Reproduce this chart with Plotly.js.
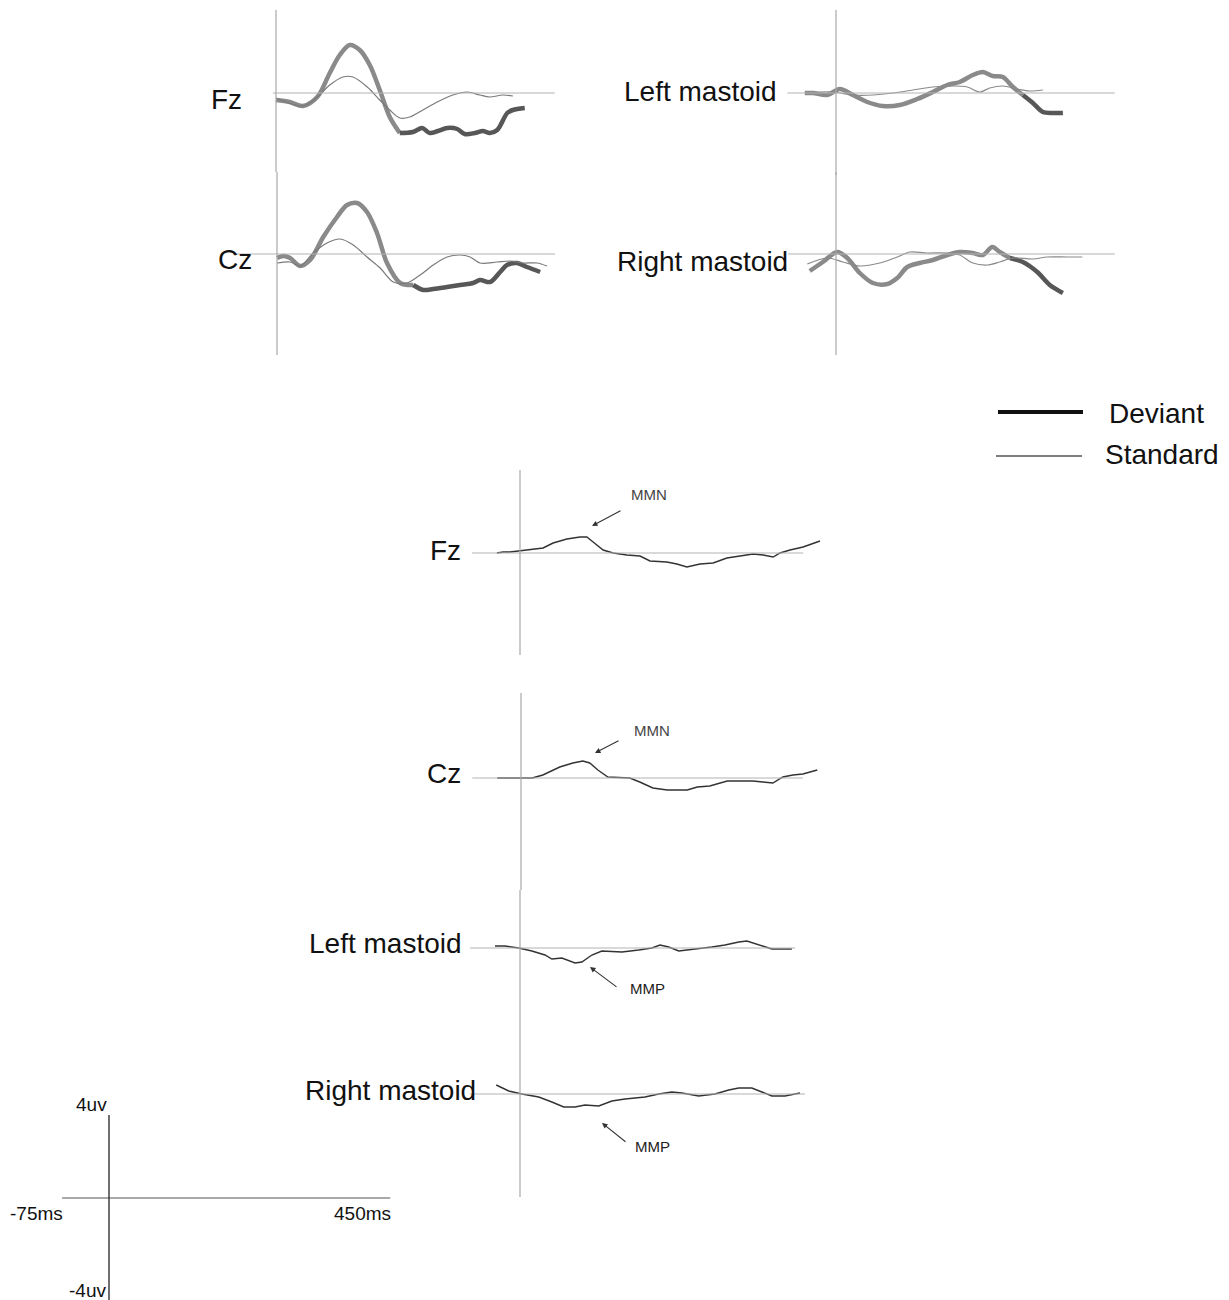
<!DOCTYPE html>
<html><head><meta charset="utf-8">
<script src="https://cdn.plot.ly/plotly-3.0.1.min.js"></script>
<style>html,body{margin:0;padding:0;background:#fff}#chart{width:1229px;height:1300px}</style>
</head><body><div id="chart"></div>
<script>
// ---------------- data (ms, µV) ----------------
// Top grand averages: deviant (thick) and standard (thin)
const fzDevT = [0,22,43,66,86,102,118,134,150,166,182,198,219,234,246,259,274,290,302,318,331,342,354,370,379,398];
const fzDevV = [-0.35,-0.45,-0.65,-0.2,1.0,1.9,2.4,2.15,1.4,0.15,-1.2,-2.0,-1.95,-1.75,-2.0,-1.9,-1.75,-1.8,-2.05,-2.0,-1.9,-2.0,-1.85,-1.0,-0.85,-0.75];
const fzStdT = [0,43,66,86,107,123,146,166,182,198,214,235,258,283,306,326,342,363,379];
const fzStdV = [-0.25,-0.65,-0.2,0.4,0.8,0.8,0.3,-0.35,-0.85,-1.25,-1.2,-0.85,-0.45,-0.1,0.05,-0.1,-0.2,-0.1,-0.15];

const czDevT = [0,10,21,37,53,74,96,112,128,144,160,176,197,218,234,250,272,293,314,325,341,357,368,384,400,421];
const czDevV = [-0.2,-0.1,-0.2,-0.6,-0.3,0.85,1.85,2.45,2.55,2.1,1.05,-0.45,-1.45,-1.55,-1.8,-1.75,-1.65,-1.55,-1.45,-1.3,-1.4,-0.9,-0.55,-0.45,-0.65,-0.9];
const czStdT = [0,21,37,58,80,101,122,144,165,186,208,229,250,272,293,309,325,352,373,394,416,432];
const czStdV = [-0.45,-0.4,-0.6,0.05,0.55,0.75,0.45,-0.15,-0.7,-1.4,-1.45,-1.05,-0.55,-0.15,-0.05,-0.15,-0.45,-0.4,-0.35,-0.45,-0.45,-0.6];

const lmDevT = [-50,-37,-14,6,27,50,75,102,130,155,178,198,219,235,251,267,283,299,315,331,347,363];
const lmDevV = [0,0,-0.1,0.2,-0.1,-0.45,-0.65,-0.6,-0.3,0.05,0.4,0.55,0.9,1.05,0.85,0.8,0.3,-0.1,-0.5,-0.95,-1.0,-1.0];
const lmStdT = [-50,-5,27,59,91,123,155,187,210,230,246,267,290,310,331];
const lmStdV = [0,0.05,-0.1,-0.1,0,0.15,0.3,0.35,0.3,0.05,0.25,0.35,0.2,0.1,0.15];

const rmDevT = [-42,-21,2,18,38,59,82,98,114,134,155,178,198,219,235,250,262,278,299,322,342,363];
const rmDevV = [-0.85,-0.4,0.1,-0.2,-0.95,-1.45,-1.5,-1.2,-0.65,-0.45,-0.3,-0.05,0.1,0.05,-0.05,0.35,0.1,-0.2,-0.4,-0.9,-1.55,-1.95];
const rmStdT = [-46,-14,11,38,70,102,118,146,178,198,219,242,262,283,315,338,370,394];
const rmStdV = [-0.5,-0.2,-0.4,-0.6,-0.45,-0.1,0.1,0.05,0.05,-0.05,-0.45,-0.55,-0.4,-0.2,-0.25,-0.15,-0.15,-0.15];

// Difference waves (deviant - standard)
const fzDiffT = [-37,-27,-16,0,21,37,53,75,96,107,117,133,149,171,192,208,235,251,267,288,309,331,352,373,389,405,416,432,453,480];
const fzDiffV = [0,0.05,0.05,0.1,0.2,0.25,0.5,0.7,0.8,0.8,0.55,0.15,0,-0.1,-0.15,-0.4,-0.45,-0.55,-0.7,-0.55,-0.5,-0.25,-0.15,-0.05,-0.1,-0.2,0,0.15,0.3,0.6];
const czDiffT = [-38,18,35,62,83,99,110,123,139,174,190,211,234,266,282,302,330,371,387,403,419,435,451,474];
const czDiffV = [0,0,0.15,0.55,0.75,0.85,0.75,0.4,0.05,0,-0.2,-0.5,-0.6,-0.6,-0.45,-0.4,-0.15,-0.15,-0.2,-0.25,0.05,0.15,0.2,0.4];
const lmDiffT = [-40,-24,-2,19,40,51,67,88,99,115,131,163,190,211,224,238,254,270,291,307,328,350,363,382,403,435];
const lmDiffV = [0.1,0.1,0,-0.15,-0.35,-0.55,-0.5,-0.75,-0.7,-0.35,-0.15,-0.2,-0.1,0,0.15,0.05,-0.15,-0.1,0,0.05,0.15,0.3,0.35,0.15,-0.05,-0.05];
const rmDiffT = [-38,-18,3,30,51,70,88,104,126,147,168,200,222,243,259,286,312,334,350,371,387,403,424,448];
const rmDiffV = [0.45,0.15,0,-0.15,-0.4,-0.65,-0.65,-0.55,-0.6,-0.35,-0.25,-0.15,0,0.1,0.05,-0.1,0,0.2,0.3,0.3,0.1,-0.1,-0.1,0.05];

// Scale bar values
const scaleTime = [-75, 450];
const scaleVolt = [4, -4];

// ---------------- layout helpers ----------------
const W = 1229, H = 1300, MS_PER_PX = 1.6, UV_PER_PX = 0.05;
const FONT = 'Liberation Sans, Arial, Helvetica, sans-serif';
// panel boxes in px: [x0,x1,y0,y1], zero-time px, baseline px, baseline & vertical line extents
const panels = [
  {box:[200,560,5,172],  zx:276, by:93,   h:[-5,446],  v:[4.15,-3.95]},
  {box:[200,560,172,358],zx:277, by:254,  h:[-70,445], v:[4.1,-5.05]},
  {box:[780,1120,5,175], zx:836, by:93,   h:[-78,446], v:[4.15,-4.1]},
  {box:[780,1120,172,358],zx:836,by:254,  h:[-77,446], v:[4.1,-5.05]},
  {box:[465,830,465,658],zx:520, by:553,  h:[-77,453], v:[4.15,-5.1]},
  {box:[465,830,690,890],zx:521, by:778,  h:[-78,451], v:[4.25,-5.6]},
  {box:[465,830,890,1040],zx:520,by:948,  h:[-80,440], v:[2.9,-4.6]},
  {box:[465,830,1040,1200],zx:520,by:1094,h:[-80,456], v:[2.7,-5.15]},
  {box:[0,420,1090,1300],zx:109, by:1198, h:null, v:null}
];

const layout = {
  width: W, height: H, margin:{l:0,r:0,t:0,b:0},
  paper_bgcolor:'#fff', plot_bgcolor:'rgba(0,0,0,0)',
  showlegend:false, shapes:[], annotations:[], font:{family:FONT}
};
function sfx(i){ return i===0 ? '' : String(i+1); }
panels.forEach((p,i)=>{
  const [x0,x1,y0,y1] = p.box;
  const s = sfx(i);
  layout['xaxis'+s] = {domain:[x0/W, x1/W], range:[(x0-p.zx)*MS_PER_PX,(x1-p.zx)*MS_PER_PX], visible:false, fixedrange:true, anchor:'y'+s};
  layout['yaxis'+s] = {domain:[1-y1/H, 1-y0/H], range:[(p.by-y1)*UV_PER_PX,(p.by-y0)*UV_PER_PX], visible:false, fixedrange:true, anchor:'x'+s};
  if (p.h) {
    layout.shapes.push({type:'line', xref:'x'+s, yref:'y'+s, x0:p.h[0], x1:p.h[1], y0:0, y1:0, line:{color:'#b4b4b4', width:1.2}});
    layout.shapes.push({type:'line', xref:'x'+s, yref:'y'+s, x0:0, x1:0, y0:p.v[0], y1:p.v[1], line:{color:'#a8a8a8', width:1.2}});
  }
});
// scale bar (panel 9)
layout.shapes.push({type:'line', xref:'x9', yref:'y9', x0:scaleTime[0], x1:scaleTime[1], y0:0, y1:0, line:{color:'#8c8c8c', width:1.3}});
layout.shapes.push({type:'line', xref:'x9', yref:'y9', x0:0, x1:0, y0:scaleVolt[0]+0.15, y1:scaleVolt[1]-1.1, line:{color:'#222', width:1.3}});

// legend lines (paper)
layout.shapes.push({type:'line', xref:'paper', yref:'paper', x0:998/W, x1:1083/W, y0:1-412/H, y1:1-412/H, line:{color:'#111', width:4}});
layout.shapes.push({type:'line', xref:'paper', yref:'paper', x0:996/W, x1:1082/W, y0:1-456/H, y1:1-456/H, line:{color:'#555', width:1.4}});

function label(text, px, py, anchor, size, color){
  layout.annotations.push({text:text, xref:'paper', yref:'paper', x:px/W, y:1-py/H, xanchor:anchor, yanchor:'middle',
    showarrow:false, font:{family:FONT, size:size, color:color||'#111'}});
}
label('Fz', 244, 100, 'right', 28);
label('Cz', 254, 259, 'right', 28);
label('Left mastoid', 779, 91, 'right', 28);
label('Right mastoid', 790, 261, 'right', 28);
label('Fz', 463, 550, 'right', 28);
label('Cz', 463, 773, 'right', 28);
label('Left mastoid', 464, 943, 'right', 28);
label('Right mastoid', 478, 1090, 'right', 28);
label('Deviant', 1107, 413, 'left', 28);
label('Standard', 1103, 455, 'left', 28);
label('4uv', 109, 1104, 'right', 19);
label('-4uv', 108, 1290, 'right', 19);
label('-75ms', 8, 1213, 'left', 19);
label('450ms', 393, 1213, 'right', 19);
label('MMN', 649, 494, 'center', 15, '#444');
label('MMN', 652, 730, 'center', 15, '#444');
label('MMP', 647, 988, 'center', 15, '#222');
label('MMP', 652, 1146, 'center', 15, '#222');
function arrow(hx, hy, tx, ty){
  layout.annotations.push({text:'', xref:'paper', yref:'paper', x:hx/W, y:1-hy/H, ax:tx-hx, ay:ty-hy,
    showarrow:true, arrowhead:2, arrowsize:1, arrowwidth:1.1, arrowcolor:'#333', standoff:0, startstandoff:0});
}
arrow(592,526,622,510);
arrow(595,753,620,740);
arrow(590,967,618,988);
arrow(602,1123,627,1143);

// ---------------- traces ----------------
const traces = [];
function addLine(T, V, i, color, width, shape){
  const s = sfx(i);
  traces.push({x:T, y:V, xaxis:'x'+s, yaxis:'y'+s, type:'scatter', mode:'lines', hoverinfo:'skip',
    line:{color:color, width:width, shape:shape||'linear', smoothing:0.9}});
}
function addDeviant(T, V, i, split){
  let k = T.findIndex(t=>t>=split); if (k<0) k = T.length-1;
  addLine(T.slice(0,k+1), V.slice(0,k+1), i, '#8a8a8a', 4.5, 'spline');
  addLine(T.slice(k), V.slice(k), i, '#575757', 4.5, 'spline');
}
addDeviant(fzDevT, fzDevV, 0, 198);
addLine(fzStdT, fzStdV, 0, '#7a7a7a', 1.2, 'spline');
addDeviant(czDevT, czDevV, 1, 218);
addLine(czStdT, czStdV, 1, '#7a7a7a', 1.2, 'spline');
addDeviant(lmDevT, lmDevV, 2, 299);
addLine(lmStdT, lmStdV, 2, '#8a8a8a', 1.2, 'spline');
addDeviant(rmDevT, rmDevV, 3, 278);
addLine(rmStdT, rmStdV, 3, '#8a8a8a', 1.2, 'spline');

addLine(fzDiffT, fzDiffV, 4, '#333', 1.4);
addLine(czDiffT, czDiffV, 5, '#333', 1.4);
addLine(lmDiffT, lmDiffV, 6, '#333', 1.4);
addLine(rmDiffT, rmDiffV, 7, '#333', 1.4);
// invisible anchor trace for scale-bar axes
traces.push({x:scaleTime, y:[0,0], xaxis:'x9', yaxis:'y9', type:'scatter', mode:'lines', line:{width:0}, hoverinfo:'skip'});

Plotly.newPlot('chart', traces, layout, {staticPlot:true, displayModeBar:false});
</script></body></html>
